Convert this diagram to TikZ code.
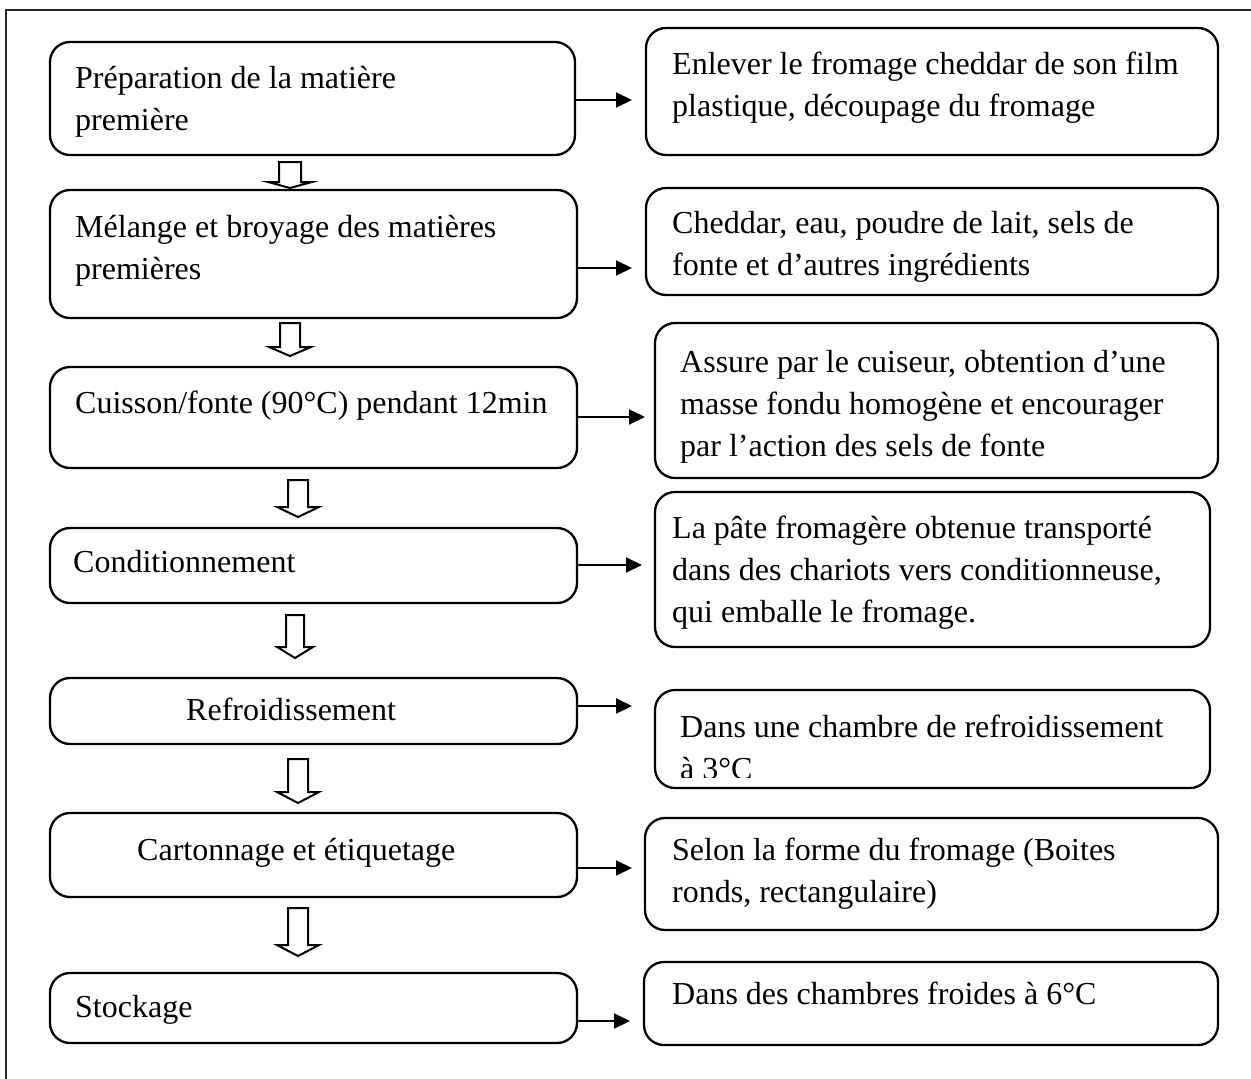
\documentclass[tikz,border=0pt]{standalone}
\usepackage{fontspec}
\setmainfont{Liberation Serif}
\usetikzlibrary{arrows.meta,fit}
\newcommand\harrow[6]{% cx, top, headbase, tip, shafthalf, headhalf
  \draw[hollowarrow] (#1-#5,#2) -- (#1+#5,#2) -- (#1+#5,#3) -- (#1+#6,#3) -- (#1,#4)
    -- (#1-#6,#3) -- (#1-#5,#3) -- cycle;}
\begin{document}
\begin{tikzpicture}[x=1pt,y=-1pt,
  box/.style={draw, line width=2.3pt, rounded corners=20pt, inner sep=0pt},
  txt/.style={anchor=base west, inner sep=0pt, font=\fontsize{32}{42}\selectfont},
  link/.style={line width=2pt, -{Triangle[length=16pt,width=15pt]}},
  hollowarrow/.style={draw, line width=2pt, line join=miter, fill=white},
  frame/.style={line width=2pt, draw=black!85}]
\useasboundingbox (0,0) rectangle (1251,1079);
% frame
\coordinate (ftr) at (1251,10);
\coordinate (fbl) at (6,1079);
\draw[frame] (ftr) -- (fbl |- ftr) -- (fbl);
% left boxes
\node[box, fit={(50,42) (575,155)}] (l1) {};
\node[box, fit={(50,190) (577,318)}] (l2) {};
\node[box, fit={(50,367) (577,468)}] (l3) {};
\node[box, fit={(50,528) (577,603)}] (l4) {};
\node[box, fit={(50,678) (577,744)}] (l5) {};
\node[box, fit={(50,813) (577,897)}] (l6) {};
\node[box, fit={(50,973) (577,1043)}] (l7) {};
% right boxes
\node[box, fit={(646,28) (1218,155)}] (r1) {};
\node[box, fit={(646,188) (1218,295)}] (r2) {};
\node[box, fit={(655,323) (1218,478)}] (r3) {};
\node[box, fit={(655,492) (1210,647)}] (r4) {};
\node[box, fit={(655,690) (1210,788)}] (r5) {};
\node[box, fit={(645,818) (1218,930)}] (r6) {};
\node[box, fit={(644,962) (1218,1045)}] (r7) {};
% left texts
\node[txt] (tl1a) at (75,88) {Préparation de la matière};
\node[txt] (tl1b) at (75,130) {première};
\node[txt] (tl2a) at (75,237) {Mélange et broyage des matières};
\node[txt] (tl2b) at (75,279) {premières};
\node[txt] (tl3) at (75,413) {Cuisson/fonte (90°C) pendant 12min};
\node[txt] (tl4) at (73,572) {Conditionnement};
\node[txt] (tl5) at (186,720) {Refroidissement};
\node[txt] (tl6) at (137,860) {Cartonnage et étiquetage};
\node[txt] (tl7) at (75,1017) {Stockage};
% right texts
\node[txt] (tr1a) at (672,74) {Enlever le fromage cheddar de son film};
\node[txt] (tr1b) at (672,116) {plastique, découpage du fromage};
\node[txt] (tr2a) at (672,233) {Cheddar, eau, poudre de lait, sels de};
\node[txt] (tr2b) at (672,275) {fonte et d’autres ingrédients};
\node[txt] (tr3a) at (680,372) {Assure par le cuiseur, obtention d’une};
\node[txt] (tr3b) at (680,414) {masse fondu homogène et encourager};
\node[txt] (tr3c) at (680,456) {par l’action des sels de fonte};
\node[txt] (tr4a) at (672,538) {La pâte fromagère obtenue transporté};
\node[txt] (tr4b) at (672,580) {dans des chariots vers conditionneuse,};
\node[txt] (tr4c) at (672,622) {qui emballe le fromage.};
\node[txt] (tr5a) at (680,737) {Dans une chambre de refroidissement};
\begin{scope}
  \clip (655,690) rectangle (1210,777);
  \node[txt] (tr5b) at (680,779) {à 3°C};
\end{scope}
\node[txt] (tr6a) at (672,860) {Selon la forme du fromage (Boites};
\node[txt] (tr6b) at (672,902) {ronds, rectangulaire)};
\node[txt] (tr7) at (672,1004) {Dans des chambres froides à 6°C};
% horizontal connectors
\coordinate (e1) at (632,100);
\coordinate (e2) at (632,268);
\coordinate (e3) at (645,417);
\coordinate (e4) at (642,565);
\coordinate (e5) at (632,706);
\coordinate (e6) at (632,868);
\coordinate (e7) at (630,1021);
\draw[link] (l1.east |- e1) -- (e1);
\draw[link] (l2.east |- e2) -- (e2);
\draw[link] (l3.east |- e3) -- (e3);
\draw[link] (l4.east |- e4) -- (e4);
\draw[link] (l5.east |- e5) -- (e5);
\draw[link] (l6.east |- e6) -- (e6);
\draw[link] (l7.east |- e7) -- (e7);
% hollow down arrows
\harrow{290}{162}{182}{188}{11}{22}
\harrow{290}{323}{347}{356}{10}{21}
\harrow{298}{480}{507}{517}{10}{21}
\harrow{295}{615}{647}{658}{9}{18}
\harrow{298}{759}{792}{803}{10}{21}
\harrow{298}{908}{945}{956}{10}{21}
\end{tikzpicture}
\end{document}
